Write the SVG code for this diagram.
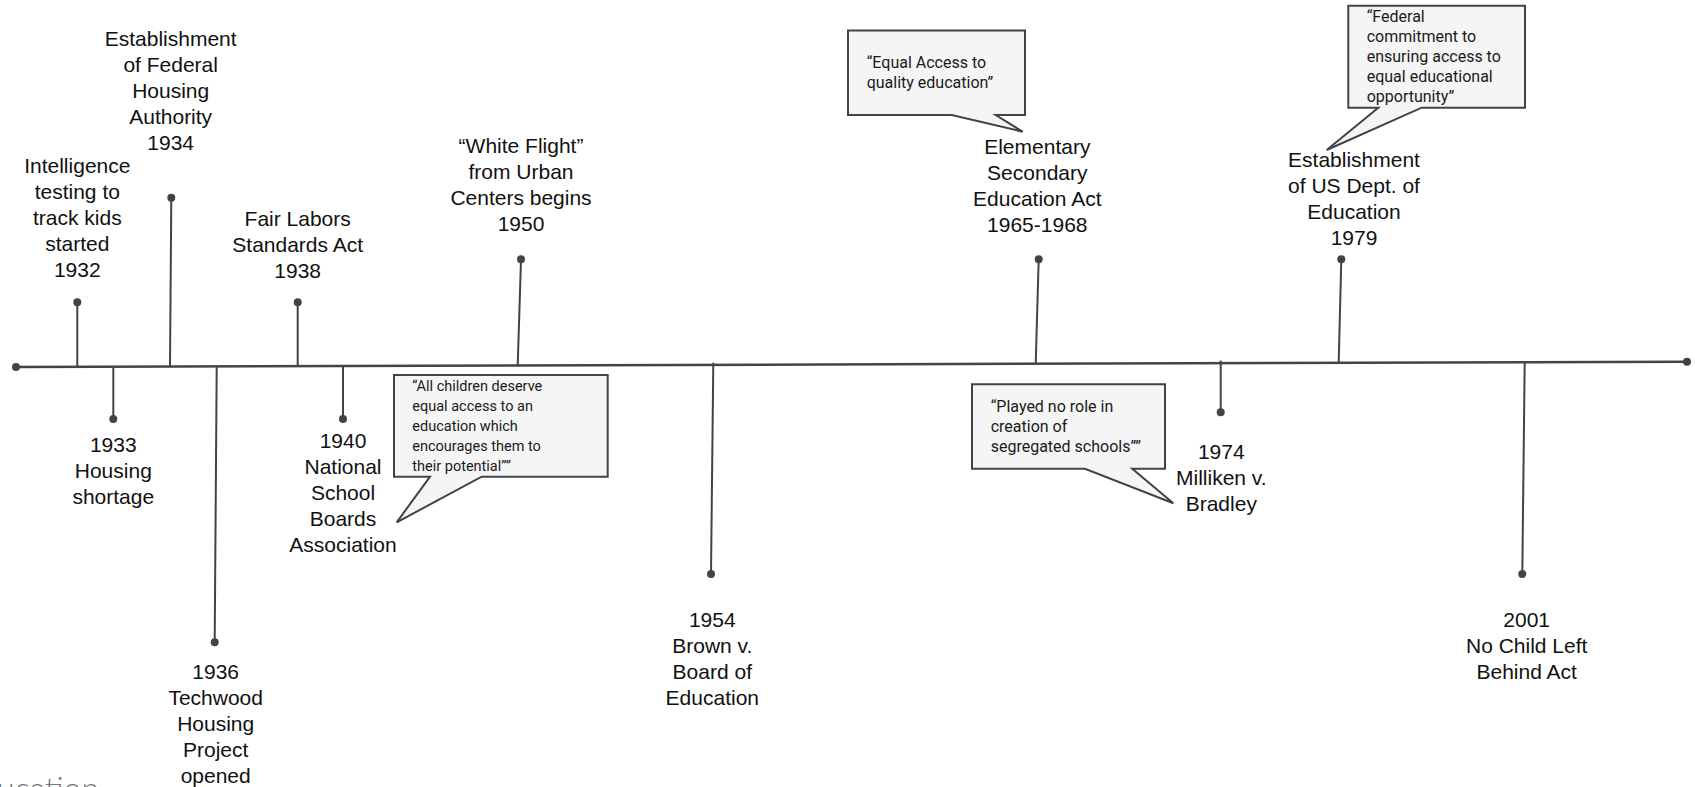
<svg xmlns="http://www.w3.org/2000/svg" width="1695" height="787" viewBox="0 0 1695 787">
<style>
.lbl{font-family:"Liberation Sans",Arial,sans-serif;font-size:21px;fill:#111;text-anchor:middle}
.co{font-family:Roboto,"Liberation Sans",sans-serif;font-size:16px;fill:#1a1a1a}
.co.sm{font-size:14.5px}
.stem{stroke:#3f4449;stroke-width:2;fill:none}
.axis{stroke:#3f4449;stroke-width:2.5;fill:none}
.dot{fill:#3f4449}
.bubble{fill:#f5f5f5;stroke:#3f4449;stroke-width:2;stroke-linejoin:miter}
.ghost{font-family:Lato,"Open Sans",sans-serif;font-weight:300;font-size:32px;fill:#777}
</style>
<rect width="1695" height="787" fill="#ffffff"/>
<text class="ghost" x="-3" y="800">ucation</text>
<g id="connectors">
<line class="axis" x1="16" y1="367" x2="1687" y2="361.7"/>
<circle class="dot" cx="16" cy="367" r="4"/>
<circle class="dot" cx="1687" cy="361.7" r="4"/>
<line class="stem" x1="77.3" y1="302.3" x2="77.3" y2="366.8"/>
<line class="stem" x1="171.3" y1="197.7" x2="170" y2="366.5"/>
<line class="stem" x1="297.7" y1="302.3" x2="297.7" y2="366.2"/>
<line class="stem" x1="113.3" y1="366.7" x2="113.3" y2="419"/>
<line class="stem" x1="216.7" y1="366.4" x2="214.7" y2="642.3"/>
<line class="stem" x1="343" y1="366" x2="343" y2="419"/>
<line class="stem" x1="521" y1="259.3" x2="517.7" y2="365.5"/>
<line class="stem" x1="713.3" y1="362.7" x2="711" y2="574"/>
<line class="stem" x1="1038.7" y1="259.3" x2="1035.7" y2="364"/>
<line class="stem" x1="1220.7" y1="360.5" x2="1220.7" y2="412.3"/>
<line class="stem" x1="1341.3" y1="259.3" x2="1338.7" y2="362.6"/>
<line class="stem" x1="1524.7" y1="362.3" x2="1522.3" y2="574"/>
<circle class="dot" cx="77.3" cy="302.3" r="4"/>
<circle class="dot" cx="171.3" cy="197.7" r="4"/>
<circle class="dot" cx="297.7" cy="302.3" r="4"/>
<circle class="dot" cx="113.3" cy="419" r="4"/>
<circle class="dot" cx="214.7" cy="642.3" r="4"/>
<circle class="dot" cx="343" cy="419" r="4"/>
<circle class="dot" cx="521" cy="259.3" r="4"/>
<circle class="dot" cx="711" cy="574" r="4"/>
<circle class="dot" cx="1038.7" cy="259.3" r="4"/>
<circle class="dot" cx="1220.7" cy="412.3" r="4"/>
<circle class="dot" cx="1341.3" cy="259.3" r="4"/>
<circle class="dot" cx="1522.3" cy="574" r="4"/>
</g>
<g id="e1932"><text class="lbl" x="77.3" y="173"><tspan x="77.3">Intelligence</tspan><tspan x="77.3" dy="26">testing to</tspan><tspan x="77.3" dy="26">track kids</tspan><tspan x="77.3" dy="26">started</tspan><tspan x="77.3" dy="26">1932</tspan></text></g>
<g id="e1934"><text class="lbl" x="170.7" y="46"><tspan x="170.7">Establishment</tspan><tspan x="170.7" dy="26">of Federal</tspan><tspan x="170.7" dy="26">Housing</tspan><tspan x="170.7" dy="26">Authority</tspan><tspan x="170.7" dy="26">1934</tspan></text></g>
<g id="e1938"><text class="lbl" x="297.7" y="225.5"><tspan x="297.7">Fair Labors</tspan><tspan x="297.7" dy="26">Standards Act</tspan><tspan x="297.7" dy="26">1938</tspan></text></g>
<g id="e1933"><text class="lbl" x="113.3" y="451.7"><tspan x="113.3">1933</tspan><tspan x="113.3" dy="26">Housing</tspan><tspan x="113.3" dy="26">shortage</tspan></text></g>
<g id="e1936"><text class="lbl" x="215.7" y="679"><tspan x="215.7">1936</tspan><tspan x="215.7" dy="26">Techwood</tspan><tspan x="215.7" dy="26">Housing</tspan><tspan x="215.7" dy="26">Project</tspan><tspan x="215.7" dy="26">opened</tspan></text></g>
<g id="e1940"><text class="lbl" x="343" y="447.7"><tspan x="343">1940</tspan><tspan x="343" dy="26">National</tspan><tspan x="343" dy="26">School</tspan><tspan x="343" dy="26">Boards</tspan><tspan x="343" dy="26">Association</tspan></text></g>
<g id="e1950"><text class="lbl" x="521" y="153.3"><tspan x="521">“White Flight”</tspan><tspan x="521" dy="26">from Urban</tspan><tspan x="521" dy="26">Centers begins</tspan><tspan x="521" dy="26">1950</tspan></text></g>
<g id="e1954"><text class="lbl" x="712.3" y="627.3"><tspan x="712.3">1954</tspan><tspan x="712.3" dy="26">Brown v.</tspan><tspan x="712.3" dy="26">Board of</tspan><tspan x="712.3" dy="26">Education</tspan></text></g>
<g id="e1965"><text class="lbl" x="1037.3" y="154"><tspan x="1037.3">Elementary</tspan><tspan x="1037.3" dy="26">Secondary</tspan><tspan x="1037.3" dy="26">Education Act</tspan><tspan x="1037.3" dy="26">1965-1968</tspan></text></g>
<g id="e1974"><text class="lbl" x="1221.3" y="459"><tspan x="1221.3">1974</tspan><tspan x="1221.3" dy="26">Milliken v.</tspan><tspan x="1221.3" dy="26">Bradley</tspan></text></g>
<g id="e1979"><text class="lbl" x="1354" y="166.7"><tspan x="1354">Establishment</tspan><tspan x="1354" dy="26">of US Dept. of</tspan><tspan x="1354" dy="26">Education</tspan><tspan x="1354" dy="26">1979</tspan></text></g>
<g id="e2001"><text class="lbl" x="1526.7" y="627.3"><tspan x="1526.7">2001</tspan><tspan x="1526.7" dy="26">No Child Left</tspan><tspan x="1526.7" dy="26">Behind Act</tspan></text></g>
<g id="callout-nsba">
<path class="bubble" d="M394,375 H607.7 V476.7 H481.7 L396.7,522.3 L430,476.7 H394 Z"/>
<text class="co sm" x="412.3" y="390.7"><tspan x="412.3">“All children deserve</tspan><tspan x="412.3" dy="20">equal access to an</tspan><tspan x="412.3" dy="20">education which</tspan><tspan x="412.3" dy="20">encourages them to</tspan><tspan x="412.3" dy="20">their potential””</tspan></text>
</g>
<g id="callout-esea">
<path class="bubble" d="M848,30.5 H1025 V115 H995.7 L1022.7,131.7 L951.7,115 H848 Z"/>
<text class="co" x="866.7" y="68.3"><tspan x="866.7">“Equal Access to</tspan><tspan x="866.7" dy="20">quality education”</tspan></text>
</g>
<g id="callout-milliken">
<path class="bubble" d="M972,384.3 H1165 V468.7 H1132.3 L1173.3,503.3 L1085,468.7 H972 Z"/>
<text class="co" x="990.7" y="411.7"><tspan x="990.7">“Played no role in</tspan><tspan x="990.7" dy="20">creation of</tspan><tspan x="990.7" dy="20">segregated schools””</tspan></text>
</g>
<g id="callout-doe">
<path class="bubble" d="M1348.3,5.7 H1525 V107.7 H1421.7 L1326.7,150 L1378.3,107.7 H1348.3 Z"/>
<text class="co" x="1366.7" y="21.7"><tspan x="1366.7">“Federal</tspan><tspan x="1366.7" dy="20">commitment to</tspan><tspan x="1366.7" dy="20">ensuring access to</tspan><tspan x="1366.7" dy="20">equal educational</tspan><tspan x="1366.7" dy="20">opportunity”</tspan></text>
</g>
</svg>
